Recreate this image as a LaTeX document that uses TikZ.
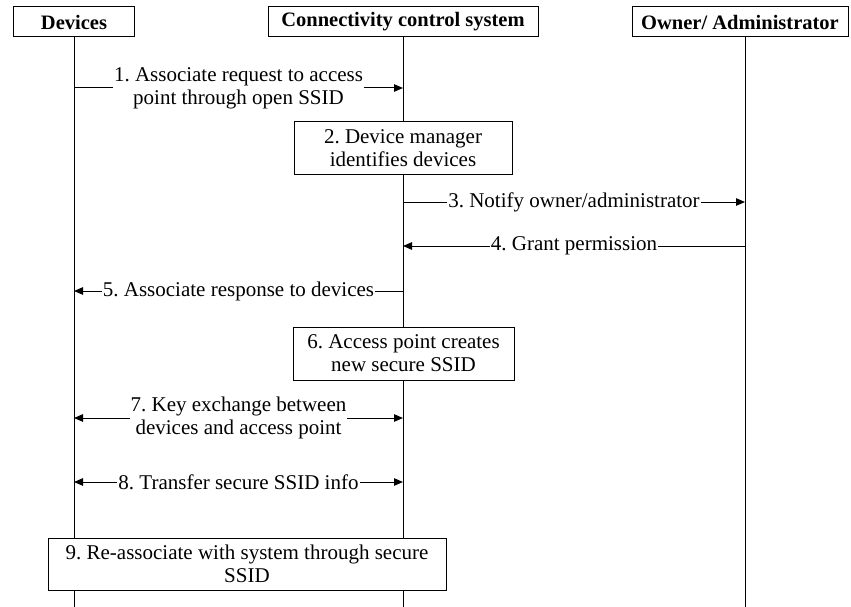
\documentclass[tikz,border=0pt]{standalone}
\usepackage{fontspec}
\setmainfont{Liberation Serif}
\usetikzlibrary{arrows.meta}
\begin{document}
\frenchspacing
\begin{tikzpicture}[x=1pt,y=-1pt, line width=1pt,
  every node/.style={font=\fontsize{21}{23}\selectfont},
  head/.style={draw, minimum height=30pt, inner sep=0pt, font=\bfseries\fontsize{20.5}{23}\selectfont},
  actbox/.style={draw, fill=white, align=center, inner sep=0pt},
  msg/.style={fill=white, align=center, inner xsep=1pt, inner ysep=0pt},
  arr/.style={-{Triangle[length=9pt,width=7.5pt]}},
  darr/.style={{Triangle[length=9pt,width=7.5pt]}-{Triangle[length=9pt,width=7.5pt]}}]
\useasboundingbox (0,0) rectangle (851,607);
% headers
\node[head, minimum width=121pt] (dev) at (74,22) {Devices};
\node[head, minimum width=270pt] (con) at (403,22) {Connectivity control system};
\node[head, minimum width=216pt] (own) at (740,22) {Owner/ Administrator};
% lifeline ends
\coordinate (devend) at (74,607);
\coordinate (conend) at (403,607);
\coordinate (ownend) at (745,607);
\draw (dev.south -| devend) -- (devend);
\draw (con.south -| conend) -- (conend);
\draw (own.south -| ownend) -- (ownend);
% message points
\coordinate (d1) at (74,88);  \coordinate (c1) at (403,88);
\coordinate (c3) at (403,202); \coordinate (o3) at (745,202);
\coordinate (o4) at (745,246); \coordinate (c4) at (403,246);
\coordinate (c5) at (403,291); \coordinate (d5) at (74,291);
\coordinate (d7) at (74,418);  \coordinate (c7) at (403,418);
\coordinate (d8) at (74,482);  \coordinate (c8) at (403,482);
% messages
\draw[arr] (d1) -- (c1) node[msg, midway] (m1) {1. Associate request to access\\point through open SSID};
\node[actbox, minimum width=218pt, minimum height=52pt] (b2) at (403,148) {2. Device manager\\identifies devices};
\draw[arr] (c3) -- (o3) node[msg, midway] (m3) {3. Notify owner/administrator};
\draw[arr] (o4) -- (c4) node[msg, midway] (m4) {4. Grant permission};
\draw[arr] (c5) -- (d5) node[msg, midway] (m5) {5. Associate response to devices};
\node[actbox, minimum width=221pt, minimum height=53pt] (b6) at (403.5,353.5) {6. Access point creates\\new secure SSID};
\draw[darr] (d7) -- (c7) node[msg, midway] (m7) {7. Key exchange between\\devices and access point};
\draw[darr] (d8) -- (c8) node[msg, midway] (m8) {8. Transfer secure SSID info};
\node[actbox, minimum width=398pt, minimum height=52pt] (b9) at (247,564) {9. Re-associate with system through secure\\SSID};
\end{tikzpicture}
\end{document}
